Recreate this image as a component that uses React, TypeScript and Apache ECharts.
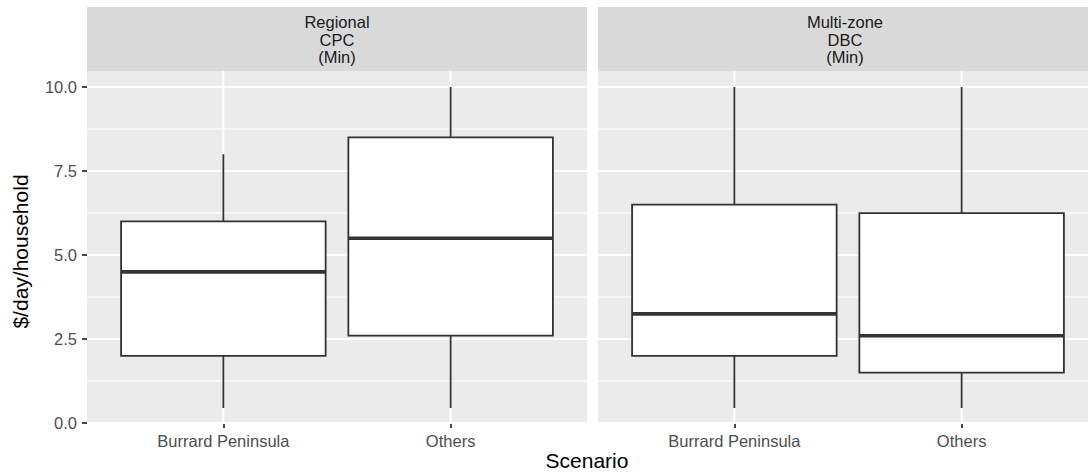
import React, { useEffect, useRef } from "react";
import * as echarts from "echarts";

const categories = ["Burrard Peninsula", "Others"];
const panelTitles = ["Regional\nCPC\n(Min)", "Multi-zone\nDBC\n(Min)"];
// each row: [lower whisker, Q1, median, Q3, upper whisker]
const regionalCPC = [
  [0.45, 2.0, 4.5, 6.0, 8.0],
  [0.45, 2.6, 5.5, 8.5, 10.0],
];
const multiZoneDBC = [
  [0.45, 2.0, 3.25, 6.5, 10.0],
  [0.45, 1.5, 2.6, 6.25, 10.0],
];
const yTicks = [0, 2.5, 5, 7.5, 10];
const yMinor = [1.25, 3.75, 6.25, 8.75];
const xTicks = [1, 2];
const yTitle = "$/day/household";
const xTitle = "Scenario";

const FONT = "'Liberation Sans', Arial, Helvetica, sans-serif";
const PANEL = [
  { left: 87, width: 500, textX: 337 },
  { left: 598, width: 500, textX: 845 },
];
const TOP = 71;
const HEIGHT = 353;
const STRIP_TOP = 7;
const TICK_FONT = 16.5;
const TITLE_FONT = 21;

function hLineItem(width: number) {
  return (params: any, api: any) => {
    const y = api.coord([1.5, api.value(1)])[1];
    const cs = params.coordSys;
    return {
      type: "line",
      shape: { x1: cs.x, y1: y, x2: cs.x + cs.width, y2: y },
      style: { stroke: "#FFFFFF", lineWidth: width },
      silent: true,
    };
  };
}

function vLineItem(params: any, api: any) {
  const x = api.coord([api.value(0), 5])[0];
  const cs = params.coordSys;
  return {
    type: "line",
    shape: { x1: x, y1: cs.y, x2: x, y2: cs.y + cs.height },
    style: { stroke: "#FFFFFF", lineWidth: 2 },
    silent: true,
  };
}

function boxItem(params: any, api: any) {
  const x = api.value(0);
  const lo = api.coord([x, api.value(1)]);
  const q1 = api.coord([x, api.value(2)]);
  const md = api.coord([x, api.value(3)]);
  const q3 = api.coord([x, api.value(4)]);
  const hi = api.coord([x, api.value(5)]);
  const hw = api.size([0.9, 0])[0] / 2;
  const cx = lo[0];
  const ln = { stroke: "#333333", lineWidth: 1.8 };
  return {
    type: "group",
    children: [
      { type: "line", shape: { x1: cx, y1: hi[1], x2: cx, y2: q3[1] }, style: ln },
      { type: "line", shape: { x1: cx, y1: q1[1], x2: cx, y2: lo[1] }, style: ln },
      {
        type: "rect",
        shape: { x: cx - hw, y: q3[1], width: 2 * hw, height: q1[1] - q3[1] },
        style: { fill: "#FFFFFF", stroke: "#333333", lineWidth: 1.8 },
      },
      {
        type: "line",
        shape: { x1: cx - hw, y1: md[1], x2: cx + hw, y2: md[1] },
        style: { stroke: "#333333", lineWidth: 3.6 },
      },
    ],
  };
}

export default function App() {
  const ref = useRef<HTMLDivElement>(null);
  useEffect(() => {
    document.body.style.margin = "0";
    document.body.style.overflow = "hidden";
    if (!ref.current) return;
    const chart = echarts.init(ref.current, null, { renderer: "svg" });
    const panels = [regionalCPC, multiZoneDBC];

    const grids = PANEL.map((p) => ({
      left: p.left,
      top: TOP,
      width: p.width,
      height: HEIGHT,
      show: true,
      backgroundColor: "#EBEBEB",
      borderWidth: 0,
      containLabel: false,
    }));

    const xAxes = PANEL.map((_, i) => ({
      type: "value",
      gridIndex: i,
      min: 0.4,
      max: 2.6,
      axisLine: { show: false },
      splitLine: { show: false },
      axisTick: {
        show: true,
        customValues: xTicks,
        length: 5,
        lineStyle: { color: "#333333", width: 1.8 },
      },
      axisLabel: {
        show: true,
        customValues: xTicks,
        formatter: (v: number) => categories[Math.round(v) - 1] ?? "",
        color: "#4D4D4D",
        fontSize: TICK_FONT,
        fontFamily: FONT,
        margin: 8,
      },
    }));

    const yAxes = PANEL.map((_, i) => ({
      type: "value",
      gridIndex: i,
      min: -0.0275,
      max: 10.4775,
      axisLine: { show: false },
      splitLine: { show: false },
      axisTick: {
        show: i === 0,
        customValues: yTicks,
        length: 5,
        lineStyle: { color: "#333333", width: 1.8 },
      },
      axisLabel: {
        show: i === 0,
        customValues: yTicks,
        formatter: (v: number) => v.toFixed(1),
        color: "#4D4D4D",
        fontSize: TICK_FONT,
        fontFamily: FONT,
        margin: 10,
      },
    }));

    const series: any[] = [];
    PANEL.forEach((_, i) => {
      series.push({
        type: "custom",
        xAxisIndex: i,
        yAxisIndex: i,
        z: 1,
        silent: true,
        renderItem: hLineItem(1),
        data: yMinor.map((v) => [1.5, v]),
        clip: false,
      });
      series.push({
        type: "custom",
        xAxisIndex: i,
        yAxisIndex: i,
        z: 1,
        silent: true,
        renderItem: hLineItem(2),
        data: yTicks.map((v) => [1.5, v]),
        clip: false,
      });
      series.push({
        type: "custom",
        xAxisIndex: i,
        yAxisIndex: i,
        z: 1,
        silent: true,
        renderItem: vLineItem,
        data: xTicks.map((v) => [v, 5]),
        clip: false,
      });
      series.push({
        type: "custom",
        xAxisIndex: i,
        yAxisIndex: i,
        z: 3,
        renderItem: boxItem,
        encode: { x: 0, y: [1, 2, 3, 4, 5] },
        data: panels[i].map((r, k) => [xTicks[k], ...r]),
        clip: false,
      });
    });

    const graphic: any[] = [];
    PANEL.forEach((p, i) => {
      graphic.push({
        type: "rect",
        shape: { x: p.left, y: STRIP_TOP, width: p.width, height: TOP - STRIP_TOP },
        style: { fill: "#D9D9D9" },
        silent: true,
      });
      graphic.push({
        type: "text",
        x: p.textX,
        y: (STRIP_TOP + TOP) / 2 + 0.5,
        style: {
          text: panelTitles[i],
          fill: "#1A1A1A",
          font: `${TICK_FONT}px ${FONT}`,
          lineHeight: 17.8,
          align: "center",
          verticalAlign: "middle",
        },
        silent: true,
      });
    });
    graphic.push({
      type: "text",
      x: 587,
      y: 460,
      style: {
        text: xTitle,
        fill: "#000000",
        font: `${TITLE_FONT}px ${FONT}`,
        align: "center",
        verticalAlign: "middle",
      },
      silent: true,
    });
    graphic.push({
      type: "text",
      x: 20,
      y: TOP + HEIGHT / 2 + 4,
      rotation: Math.PI / 2,
      style: {
        text: yTitle,
        fill: "#000000",
        font: `${TITLE_FONT}px ${FONT}`,
        align: "center",
        verticalAlign: "middle",
      },
      silent: true,
    });

    chart.setOption({
      animation: false,
      backgroundColor: "#FFFFFF",
      grid: grids,
      xAxis: xAxes,
      yAxis: yAxes,
      series,
      graphic,
    });
    return () => chart.dispose();
  }, []);
  return (
    <div
      style={{
        position: "absolute",
        left: 0,
        top: 0,
        width: 1088,
        height: 473,
        overflow: "hidden",
      }}
    >
      <div ref={ref} style={{ width: 1100, height: 473 }} />
    </div>
  );
}
